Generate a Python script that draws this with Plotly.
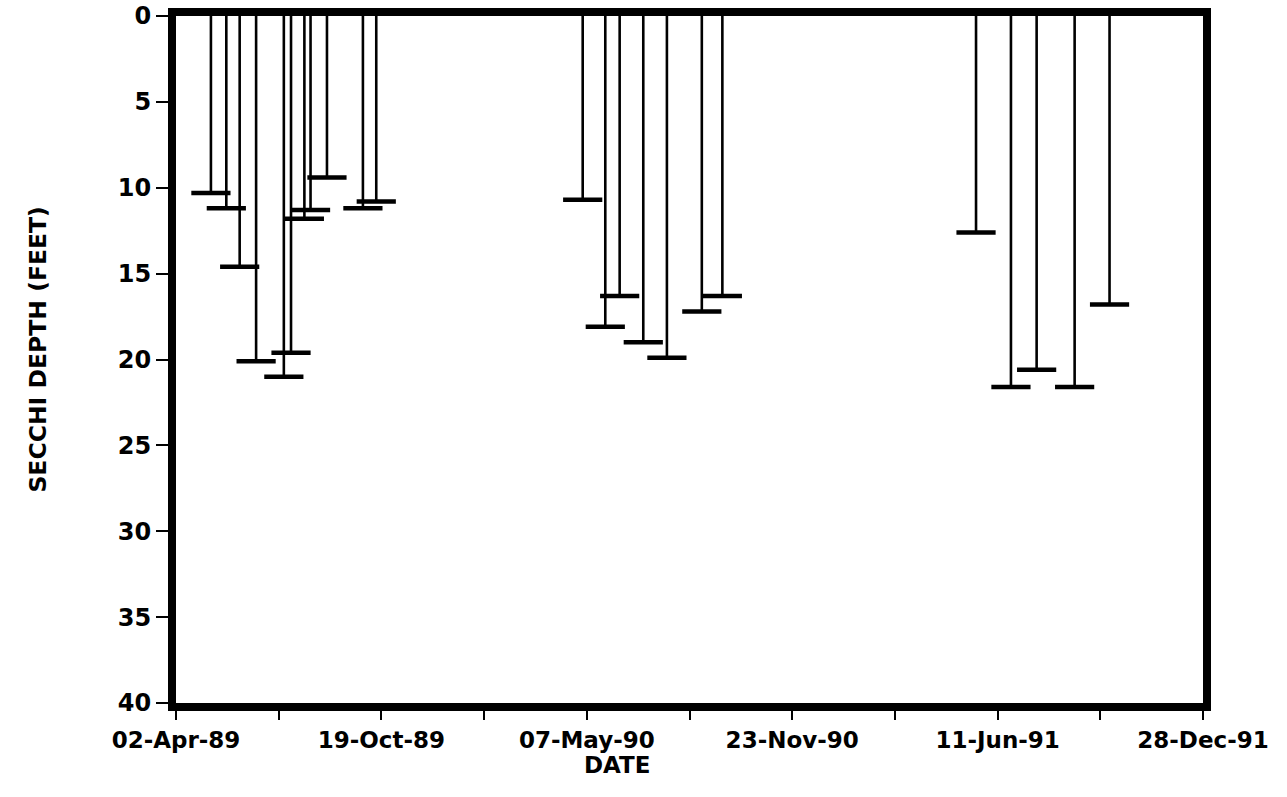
import pandas as pd
import plotly.graph_objects as go

# Secchi disk readings: sampling date and depth of disappearance (feet)
sample_dates = [
    "1989-05-06", "1989-05-21", "1989-06-03", "1989-06-19", "1989-07-16",
    "1989-07-23", "1989-08-05", "1989-08-11", "1989-08-27", "1989-10-01",
    "1989-10-14",
    "1990-05-03", "1990-05-25", "1990-06-08", "1990-07-01", "1990-07-24",
    "1990-08-27", "1990-09-16",
    "1991-05-21", "1991-06-24", "1991-07-19", "1991-08-25", "1991-09-28",
]
secchi_depth_ft = [
    10.3, 11.2, 14.6, 20.1, 21.0,
    19.6, 11.8, 11.3, 9.4, 11.2,
    10.8,
    10.7, 18.1, 16.3, 19.0, 19.9,
    17.2, 16.3,
    12.6, 21.6, 20.6, 21.6, 16.8,
]

# Date axis ticks every 100 days; every other one carries a label
date_ticks = [
    "02-Apr-89", "11-Jul-89", "19-Oct-89", "27-Jan-90", "07-May-90",
    "15-Aug-90", "23-Nov-90", "03-Mar-91", "11-Jun-91", "19-Sep-91",
    "28-Dec-91",
]
date_tick_labels = [lbl if i % 2 == 0 else "" for i, lbl in enumerate(date_ticks)]
depth_ticks = [0, 5, 10, 15, 20, 25, 30, 35, 40]

tick_vals = pd.to_datetime(date_ticks, format="%d-%b-%y")
dates = pd.to_datetime(sample_dates)

FONT = "DejaVu Sans"
INK = "black"

# vertical stems from the surface down to each reading
stem_x, stem_y = [], []
for d, depth in zip(dates, secchi_depth_ft):
    stem_x += [d, d, None]
    stem_y += [0, depth, None]

fig = go.Figure()
fig.add_trace(go.Scatter(
    x=stem_x, y=stem_y, mode="lines",
    line=dict(color=INK, width=2.6),
    hoverinfo="skip", showlegend=False,
))
# horizontal bar marking the reading
fig.add_trace(go.Scatter(
    x=dates, y=secchi_depth_ft, mode="markers",
    marker=dict(symbol="line-ew", size=28, line=dict(color=INK, width=4.5)),
    showlegend=False,
))

fig.update_layout(
    width=1287, height=797,
    margin=dict(l=176, r=84, t=16, b=94),
    paper_bgcolor="white", plot_bgcolor="white",
    font=dict(family=FONT, color=INK, size=23),
    xaxis=dict(
        type="date", automargin=False,
        range=[tick_vals[0], tick_vals[-1]],
        tickvals=tick_vals, ticktext=date_tick_labels,
        ticks="outside", ticklen=9, tickwidth=2, tickcolor=INK,
        showline=True, linewidth=8, linecolor=INK, mirror=True,
        showgrid=False, zeroline=False,
        tickfont=dict(family=FONT, size=23, color=INK, weight="bold"),
    ),
    yaxis=dict(
        automargin=False,
        range=[40, 0],
        tickvals=depth_ticks,
        ticks="outside", ticklen=12, tickwidth=2, tickcolor=INK,
        showline=True, linewidth=8, linecolor=INK, mirror=True,
        showgrid=False, zeroline=False,
        tickfont=dict(family=FONT, size=24, color=INK, weight="bold"),
    ),
    annotations=[
        dict(text="DATE", xref="paper", yref="paper", x=0.43, y=-0.068,
             xanchor="center", yanchor="top", showarrow=False,
             font=dict(family=FONT, size=23, color=INK, weight="bold")),
        dict(text="SECCHI DEPTH (FEET)", xref="paper", yref="paper",
             x=-0.134, y=0.515, textangle=-90,
             xanchor="center", yanchor="middle", showarrow=False,
             font=dict(family=FONT, size=23.5, color=INK, weight="bold")),
    ],
)

fig.write_html("out.html")
